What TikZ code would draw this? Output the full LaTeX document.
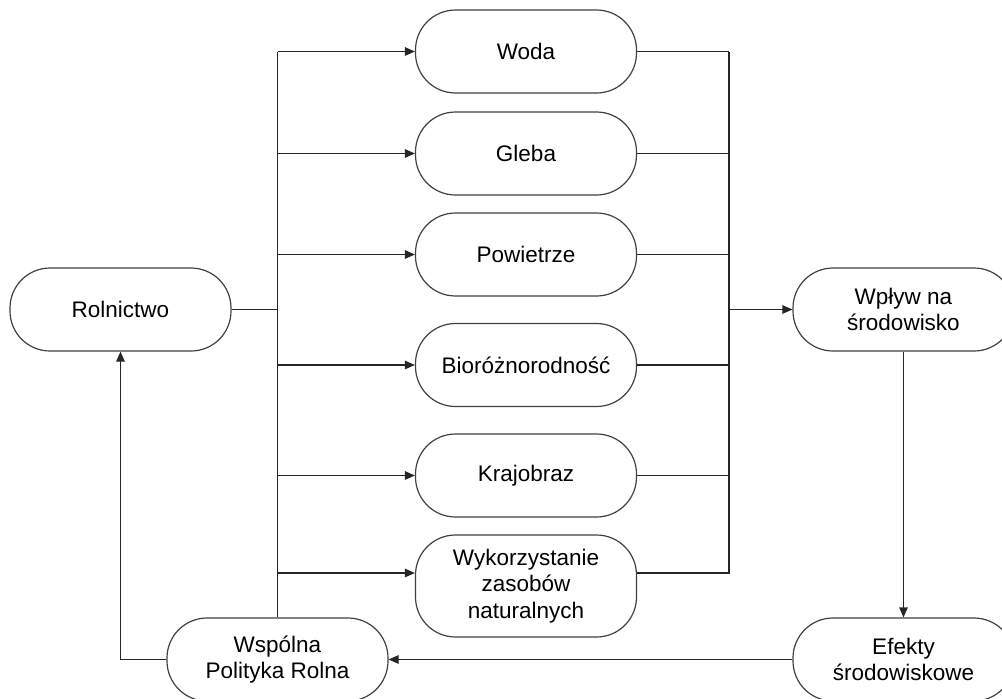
\documentclass[tikz,border=0pt]{standalone}
\usepackage{fontspec}
\setmainfont{Liberation Sans}
\usetikzlibrary{arrows.meta,positioning,calc}

\begin{document}
\begin{tikzpicture}[x=1pt,y=-1pt,
    box/.style={draw=black!75, line width=1.2pt, rounded corners=40pt, fill=white,
        minimum width=221pt, minimum height=83pt, align=center,
        font=\fontsize{22.5}{26.5}\selectfont},
    link/.style={draw=black!85, line width=1.2pt},
    arr/.style={link, -{Triangle[length=10pt,width=8.5pt]}}]
    % Frame
    \useasboundingbox (0,0) rectangle (1002,699);
    \clip (0,0) rectangle (1002,699);
    
    % Left column
    \node[box] (rol) at (120.5,309.5) {Rolnictwo};
    \node[box] (wpr) at (277.5,659.5) {Wspólna\\Polityka Rolna};
    
    % Middle column
    \node[box] (woda) at (526,51.5) {Woda};
    \node[box] (gleba) at (526,153.5) {Gleba};
    \node[box] (powietrze) at (526,254.5) {Powietrze};
    \node[box] (bio) at (526,365) {Bioróżnorodność};
    \node[box] (kraj) at (526,475.5) {Krajobraz};
    \node[box, minimum height=102pt] (wyk) at (526,586) {Wykorzystanie\\zasobów\\naturalnych};
    
    % Right column
    \node[box] (wplyw) at (903.5,309.5) {Wpływ na\\środowisko};
    \node[box] (efekty) at (903.5,659.5) {Efekty\\środowiskowe};
    
    % Trunk from Rolnictwo
    \coordinate (trunk) at (277.5,0);
    \draw[link] (wpr.north) -- (trunk |- woda.west);
    \draw[link] (rol.east) -- (rol.east -| trunk);
    \foreach \n in {woda,gleba,powietrze,bio,kraj}
        \draw[arr] (trunk |- \n.west) -- (\n.west);
    \draw[arr] ($(trunk |- wyk.west)+(0,-13)$) -- ($(wyk.west)+(0,-13)$);
    
    % Bus to Wplyw
    \coordinate (bus) at (729,0);
    \foreach \n in {woda,gleba,powietrze,bio,kraj}
        \draw[link] (\n.east) -- (\n.east -| bus);
    \draw[link] ($(wyk.east)+(0,-13)$) -- ($(bus |- wyk.east)+(0,-13)$)
        -- (bus |- woda.east);
    \draw[arr] (bus |- wplyw.west) -- (wplyw.west);
    
    % Feedback loop
    \draw[arr] (wplyw.south) -- (efekty.north);
    \draw[arr] (efekty.west) -- (wpr.east);
    \draw[arr] (wpr.west) -| (rol.south);
\end{tikzpicture}
\end{document}
